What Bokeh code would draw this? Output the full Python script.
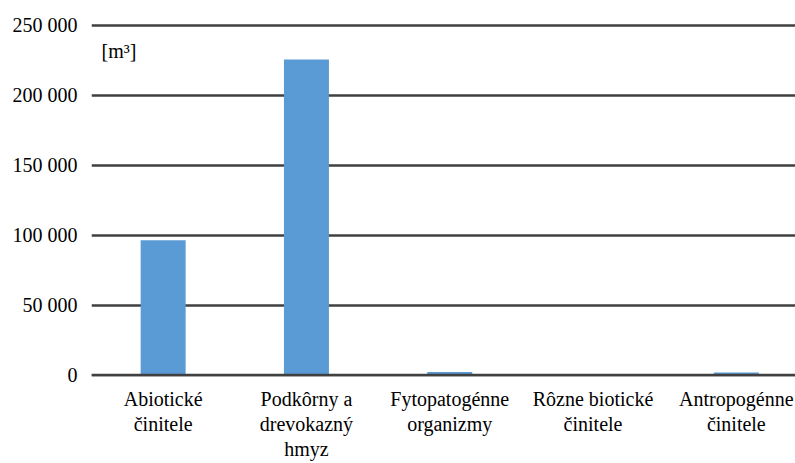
from bokeh.plotting import figure
from bokeh.models import Range1d, FixedTicker, Span, Label
from bokeh.embed import file_html
from bokeh.resources import INLINE

categories = ["Abiotické\nčinitele", "Podkôrny a\ndrevokazný\nhmyz", "Fytopatogénne\norganizmy",
              "Rôzne biotické\nčinitele", "Antropogénne\nčinitele"]
values = [96500, 225700, 2200, 150, 1800]
y_ticks = [0, 50000, 100000, 150000, 200000, 250000]
y_tick_labels = ["0", "50 000", "100 000", "150 000", "200 000", "250 000"]
unit_label = "[m³]"

FONT = "Liberation Serif"
xs = list(range(len(categories)))

p = figure(width=795, height=463, output_backend="svg", toolbar_location=None,
           x_range=Range1d(-0.5, 4.413), y_range=Range1d(-1000, 253571),
           min_border_left=91, min_border_right=0, min_border_top=20, min_border_bottom=84)
p.outline_line_color = None
p.background_fill_color = "white"
p.border_fill_color = "white"

p.vbar(x=xs, top=values, width=0.314, bottom=0, color="#5B9BD5", line_color=None)

p.add_layout(Span(location=0, dimension="width", line_color="#404040", line_width=2.5, level="overlay"))

p.xgrid.grid_line_color = None
p.ygrid.grid_line_color = "#404040"
p.ygrid.grid_line_width = 2.5
p.yaxis.ticker = FixedTicker(ticks=y_ticks)
p.yaxis.major_label_overrides = {t: l for t, l in zip(y_ticks, y_tick_labels)}
p.yaxis.axis_line_color = None
p.yaxis.major_tick_line_color = None
p.yaxis.minor_tick_line_color = None
p.yaxis.major_tick_out = 0
p.yaxis.major_tick_in = 0
p.yaxis.minor_tick_out = 0
p.yaxis.major_label_standoff = 14
p.yaxis.major_label_text_font = FONT
p.yaxis.major_label_text_font_size = "20px"
p.yaxis.major_label_text_color = "black"

p.xaxis.ticker = FixedTicker(ticks=xs)
p.xaxis.major_label_overrides = {x: c for x, c in zip(xs, categories)}
p.xaxis.axis_line_color = None
p.xaxis.major_tick_line_color = None
p.xaxis.minor_tick_line_color = None
p.xaxis.major_tick_out = 0
p.xaxis.major_tick_in = 0
p.xaxis.minor_tick_out = 0
p.xaxis.major_label_standoff = 11
p.xaxis.major_label_text_font = FONT
p.xaxis.major_label_text_font_size = "20px"
p.xaxis.major_label_text_color = "black"
p.xaxis.major_label_text_line_height = 1.15

p.add_layout(Label(x=-0.43, y=232000, text=unit_label, text_font=FONT, text_font_size="20px",
                   text_baseline="middle", text_color="black"))

open("out.html", "w").write(file_html(p, INLINE))
